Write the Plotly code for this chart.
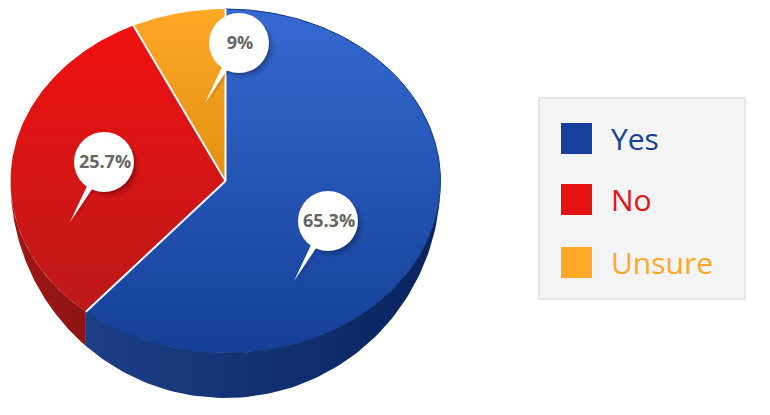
import numpy as np
import plotly.graph_objects as go

categories = ["Yes", "No", "Unsure"]
slice_shares = [61.25, 31.7, 7.05]        # visible slice sizes
label_texts = ["65.3%", "25.7%", "9%"]    # printed on the callouts
legend_colors = ["#16409c", "#e41212", "#ffa726"]
top_scales = [["#133f96", "#3569d2"], ["#bd1919", "#f01010"], ["#e28f10", "#ffa826"]]
side_scales = [["#1d3f86", "#08235e"], ["#a01616", "#8e1414"], ["#a06010", "#a06010"]]

W, H = 770, 415
CX, CY, RX, RY, DEPTH = 225.5, 181, 215, 172, 45
callouts = [(328, 221), (104, 162), (239, 43)]
TAIL = (-34, 60)
R_BUBBLE = 30
legend_y = [138.5, 199.5, 262.5]


def pt(a):
    a = np.radians(a)
    return CX + RX * np.sin(a), CY - RY * np.cos(a)


fig = go.Figure()
edges = np.concatenate([[0], np.cumsum(slice_shares) * 3.6])
edges[-1] = 360


def poly(xs, ys, scale, kind):
    fig.add_trace(go.Scatter(
        x=xs, y=ys, mode="lines", fill="toself", line=dict(width=0),
        fillgradient=dict(type=kind, colorscale=[[0, scale[0]], [1, scale[1]]]),
        hoverinfo="skip", showlegend=False))


# side walls: the lower rim is a taller ellipse around the same centre
for i in range(3):
    a0, a1 = max(edges[i], 90), min(edges[i + 1], 270)
    if a1 <= a0:
        continue
    t = np.linspace(a0, a1, 100)
    x, y = pt(t)
    low = CY + (y - CY) * (RY + DEPTH) / RY
    xs = np.concatenate([x, x[::-1]])
    ys = np.concatenate([y, low[::-1]])
    poly(xs, ys, side_scales[i], "horizontal")

# top faces
for i in range(3):
    t = np.linspace(edges[i], edges[i + 1], 160)
    x, y = pt(t)
    xs = np.concatenate([[CX], x, [CX]])
    ys = np.concatenate([[CY], y, [CY]])
    poly(xs, ys, top_scales[i], "vertical")

# dark rim on the first slice
t = np.linspace(edges[0], edges[1], 200)
x, y = pt(t)
fig.add_trace(go.Scatter(x=x, y=y, mode="lines", line=dict(color="#12367f", width=1),
                         hoverinfo="skip", showlegend=False))

# white separators
for a in edges[:-1]:
    px, py = pt(a)
    fig.add_trace(go.Scatter(x=[CX, px], y=[CY, py], mode="lines",
                             line=dict(color="white", width=2),
                             hoverinfo="skip", showlegend=False))

# callouts
for (cx, cy), txt in zip(callouts, label_texts):
    tip = (cx + TAIL[0], cy + TAIL[1])
    d = np.hypot(*TAIL)
    ux, uy = TAIL[0] / d, TAIL[1] / d
    bx, by = cx + ux * (R_BUBBLE - 3), cy + uy * (R_BUBBLE - 3)
    nx, ny = -uy * 3.2, ux * 3.2
    tx = [bx + nx, tip[0], bx - nx, bx + nx]
    ty = [by + ny, tip[1], by - ny, by + ny]
    for off, size, op in [(5, 62, .05), (4, 60, .07), (3, 58, .09), (2, 58, .1)]:
        fig.add_trace(go.Scatter(x=[cx + off], y=[cy + off], mode="markers",
                                 marker=dict(size=size, color="black", opacity=op, line=dict(width=0)),
                                 hoverinfo="skip", showlegend=False))
    fig.add_trace(go.Scatter(x=[v + 3 for v in tx], y=[v + 1 for v in ty], mode="lines", fill="toself",
                             fillcolor="rgba(0,0,0,0.10)", line=dict(width=0),
                             hoverinfo="skip", showlegend=False))
    fig.add_trace(go.Scatter(x=tx, y=ty, mode="lines", fill="toself", fillcolor="white",
                             line=dict(width=0), hoverinfo="skip", showlegend=False))
    fig.add_trace(go.Scatter(x=[cx], y=[cy], mode="markers",
                             marker=dict(size=R_BUBBLE * 2, color="white", line=dict(width=0)),
                             hoverinfo="skip", showlegend=False))
    fig.add_trace(go.Scatter(x=[cx + 1], y=[cy + 1.5], mode="text", text=[txt],
                             textposition="middle center",
                             textfont=dict(family="Open Sans", size=18, color="#666666", weight=700),
                             hoverinfo="skip", showlegend=False))

# legend
fig.add_shape(type="rect", x0=539, x1=745, y0=98, y1=299, fillcolor="#f4f4f4",
              line=dict(color="#e6e6e6", width=2), layer="below")
for name, col, y in zip(categories, legend_colors, legend_y):
    fig.add_trace(go.Scatter(x=[576.5], y=[y], mode="markers",
                             marker=dict(symbol="square", size=31, color=col, line=dict(width=0)),
                             hoverinfo="skip", showlegend=False))
    fig.add_annotation(x=609, y=y, text=name, showarrow=False, xanchor="left", yanchor="middle",
                       font=dict(family="Open Sans", size=30, color=col))

fig.update_layout(
    width=W, height=H, margin=dict(l=0, r=0, t=0, b=0),
    paper_bgcolor="white", plot_bgcolor="white", showlegend=False,
    xaxis=dict(range=[0, W], visible=False, fixedrange=True),
    yaxis=dict(range=[H, 0], visible=False, fixedrange=True),
)
fig.write_html("out.html", config=dict(displayModeBar=False),
               post_script="document.body.style.margin='0';document.body.style.overflow='hidden';")
